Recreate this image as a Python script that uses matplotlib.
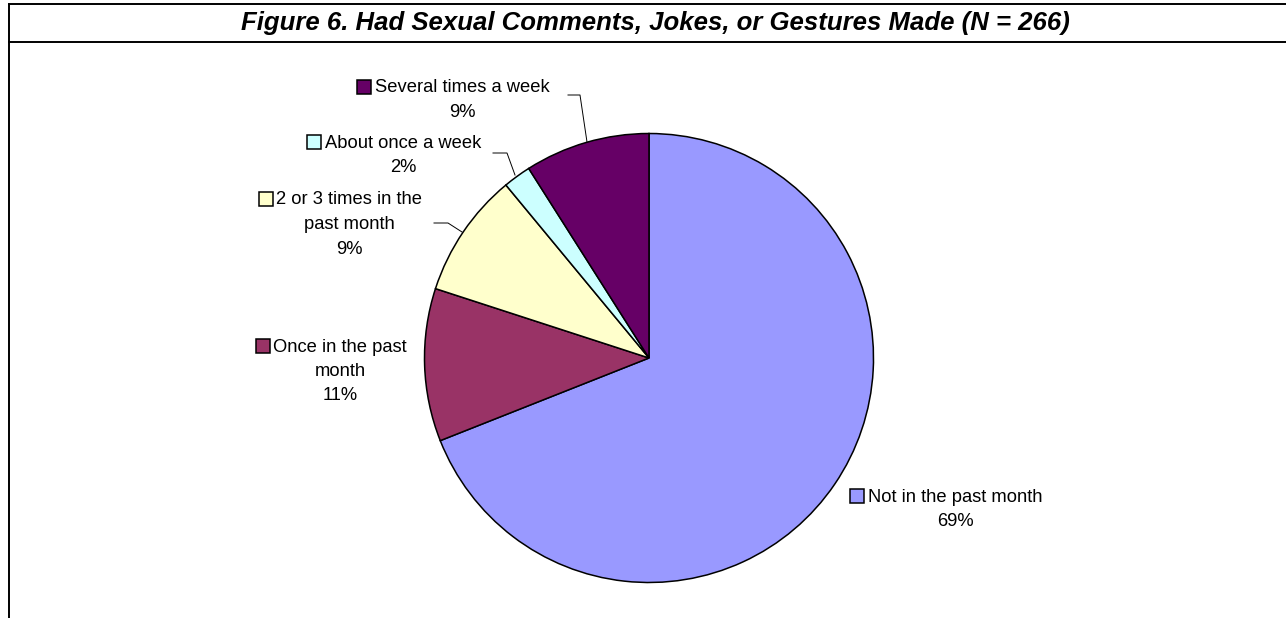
import matplotlib.pyplot as plt
from matplotlib.lines import Line2D

W, H = 1286, 618

categories = ['Not in the past month', 'Once in the past\nmonth', '2 or 3 times in the\npast month',
              'About once a week', 'Several times a week']
values = [69, 11, 9, 2, 9]
colors = ['#9999FF', '#993366', '#FFFFCC', '#CCFFFF', '#660066']

# label anchor (centre x, first line y) in pixels from the top-left
label_pos = [(955, 497), (340, 347), (349, 200), (403, 143), (462, 88)]
# leader lines, pixel coords, None where the label sits without one
leaders = [None, None,
           [(462, 232), (448, 223), (434, 223)],
           [(515, 175), (507, 153), (493, 153)],
           [(587, 142), (580, 95), (568, 95)]]

plt.rcParams['font.family'] = ['Liberation Sans', 'DejaVu Sans']

fig = plt.figure(figsize=(W / 100, H / 100), dpi=100)
ax = fig.add_axes([0, 0, 1, 1])


def py(y):
    return H - y


ax.pie(values, colors=colors, startangle=90, counterclock=False,
       center=(649, py(358)), radius=224.5, frame=False,
       wedgeprops=dict(edgecolor='black', linewidth=1.1))
ax.set_xlim(0, W)
ax.set_ylim(0, H)
ax.set_aspect('auto')
ax.axis('off')

# frame around the figure panel and title row
for xs, ys in [((8, W), (py(4), py(4))), ((8.5, 8.5), (py(4), 0)), ((8, W), (py(42), py(42)))]:
    ax.add_line(Line2D(xs, ys, color='black', lw=1.4, solid_capstyle='butt'))

ax.text(655, py(30), 'Figure 6. Had Sexual Comments, Jokes, or Gestures Made (N = 266)',
        ha='center', va='baseline', fontsize=18.5, fontweight='bold', fontstyle='italic')

fig.canvas.draw()
renderer = fig.canvas.get_renderer()
line_gap = 24.5
for cat, val, col, (cx, y0), lead in zip(categories, values, colors, label_pos, leaders):
    lines = cat.split('\n') + [f'{val}%']
    first = None
    for i, ln in enumerate(lines):
        t = ax.text(cx, py(y0 + i * line_gap), ln, ha='center', va='center', fontsize=13.2)
        if i == 0:
            first = t
    bb = first.get_window_extent(renderer)
    ax.plot(bb.x0 - 10.5, py(y0 - 1), marker='s', ms=9.5, mfc=col, mec='black', mew=1.1)
    if lead:
        ax.plot([p[0] for p in lead], [py(p[1]) for p in lead], color='black', lw=0.7)

fig.savefig('out.png', dpi=100)
